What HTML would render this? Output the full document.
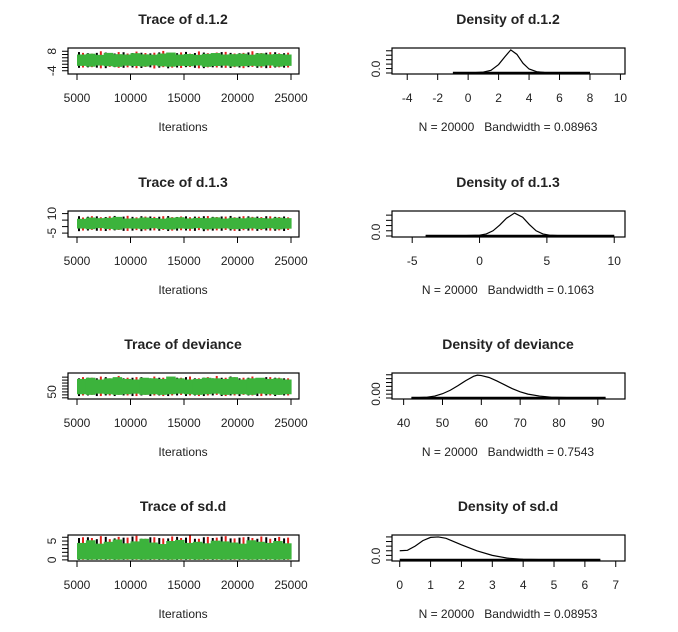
<!DOCTYPE html>
<html><head><meta charset="utf-8"><style>
body{margin:0;background:#fff}
svg{display:block;font-family:"Liberation Sans",Arial,sans-serif}
text{white-space:pre}
</style></head><body>
<svg id="s" width="678" height="632" viewBox="0 0 678 632"></svg>
<script>
// ---- data ----
const traceTitles = ["Trace of d.1.2","Trace of d.1.3","Trace of deviance","Trace of sd.d"];
const densTitles = ["Density of d.1.2","Density of d.1.3","Density of deviance","Density of sd.d"];
const bandwidths = ["N = 20000   Bandwidth = 0.08963","N = 20000   Bandwidth = 0.1063","N = 20000   Bandwidth = 0.7543","N = 20000   Bandwidth = 0.08953"];
const traceXTicks = [5000,10000,15000,20000,25000];
const traceYRange = [[-6,10],[-8,12],[38,82],[-0.3,6.6]];
const traceYTicks = [[-4,-2,0,2,4,6,8],[-5,0,5,10],[40,45,50,55,60,65,70,75],[0,1,2,3,4,5,6]];
const traceYLabels = [["-4","8"],["-5","10"],["50"],["0","5"]];
const traceYLabelVals = [[-4,8],[-5,10],[50],[0,5]];
const greenHi = [[6,6.5,5.8,7,6.2,6,6.8,6.1,5.9,6.6,7.2,6,6.3,5.8,6.4,6.9,6,6.2,6.5,5.9,6.7,6.1,6.3,6],
 [6,7,6.5,6.8,7.5,6.2,6.4,7,6.6,6.1,6.9,7.2,6.3,6.7,6.5,7.1,6.2,6.8,6.4,7,6.6,6.3,6.9,6.5],
 [72,74,71,73,75,72,71,74,73,72,76,73,71,72,74,73,72,75,71,73,74,72,73,71],
 [4.5,5.2,4.3,4.8,5.4,4.4,4.9,5.6,4.6,4.2,5,5.3,4.5,4.8,4.4,5.1,4.9,4.6,4.3,5.2,4.8,4.5,5,4.4]];
const greenLo = [[-1,-1.5,-0.8,-1.2,-1.6,-0.9,-1.1,-1.4,-0.7,-1.3,-1.5,-1,-1.2,-0.8,-1.6,-1.1,-0.9,-1.4,-1.2,-1,-1.3,-0.8,-1.5,-1],
 [-1.5,-2,-1.2,-1.8,-2.4,-1.4,-1.6,-2,-1.3,-1.9,-2.2,-1.5,-1.7,-1.2,-2.1,-1.6,-1.4,-2,-1.8,-1.5,-1.9,-1.3,-2.1,-1.6],
 [46,45,47,46,45,46,47,45,46,45,46,47,46,45,46,47,45,46,46,45,47,46,45,46],
 [0.1,0.05,0.1,0.1,0.05,0.1,0.1,0.05,0.1,0.1,0.05,0.1,0.1,0.05,0.1,0.1,0.05,0.1,0.1,0.05,0.1,0.1,0.05,0.1]];
const redHi = [[7,6.5,8,6.8,7.5,6.6,7.8,6.9,7.1,8.2,6.7,7.3,6.5,7.9,6.8,7.2,7.6,6.6,7,8,6.9,7.4,6.7,7.1],
 [7,8,7.2,7.9,7.4,8.3,7.1,7.7,7.5,8,7.3,7.8,7.2,7.6,8.1,7.4,7.7,7.2,8,7.5,7.3,7.9,7.4,7.1],
 [75,74,76,73,77,74,75,73,76,74,75,74,76,73,75,77,74,75,74,76,73,75,74,73],
 [6,5.8,6.3,5.5,6.1,5.9,6.4,5.6,6,5.7,6.2,5.8,6.5,5.6,6.1,5.9,6.3,5.7,6,5.8,6.2,5.6,6.1,5.9]];
const redLo = [[-2,-1.8,-2.5,-1.6,-2.2,-1.9,-2.4,-1.7,-2.6,-1.8,-2.1,-2.3,-1.7,-2.5,-1.9,-2,-2.2,-1.8,-2.4,-1.6,-2.1,-2.3,-1.9,-2],
 [-3,-2.5,-3.2,-2.8,-2.6,-3.3,-2.7,-3,-2.9,-2.6,-3.1,-2.8,-3.2,-2.7,-3,-2.9,-2.6,-3.3,-2.8,-3,-2.7,-3.1,-2.9,-2.6],
 [44,45,43,44,45,44,43,45,44,43,44,45,44,43,44,45,43,44,45,44,43,44,45,44],
 [0,0,0,0,0,0,0,0,0,0,0,0,0,0,0,0,0,0,0,0,0,0,0,0]];
const blackHi = [[7.5,6.8,7,7.2,6.6,7.4,6.9,7.1,6.7,7.3,7,6.8,7.6,6.9,7.2,6.7,7.5,7,6.8,7.3,6.9,7.1,7.4,6.8],
 [8,7.6,7.9,7.4,8.2,7.7,7.5,8,7.8,7.6,8.1,7.4,7.9,7.7,8,7.5,7.8,8.2,7.6,7.9,7.7,8,7.5,7.8],
 [73,74,73,75,74,73,74,75,73,74,73,74,75,73,74,73,74,76,73,74,73,75,74,73],
 [5.8,6,5.5,6.1,5.7,5.9,6.2,5.6,6,5.8,5.7,6.1,5.9,5.6,6,5.8,6.2,5.7,5.9,6.1,5.6,6,5.8,5.7]];
const blackLo = [[-2.2,-1.9,-2.1,-2.4,-1.8,-2.2,-2,-2.3,-1.9,-2.1,-2.5,-2,-1.8,-2.2,-2.4,-1.9,-2.1,-2.3,-2,-1.8,-2.2,-2.4,-2,-2.1],
 [-3.5,-3,-3.2,-3.4,-2.9,-3.3,-3.1,-3.5,-3,-3.2,-3.4,-3.1,-3,-3.3,-3.5,-3.1,-3.2,-3,-3.4,-3.1,-3.3,-3,-3.2,-3.4],
 [43,44,43,44,43,44,43,44,43,44,43,44,43,44,43,44,43,44,43,44,43,44,43,44],
 [0,0,0,0,0,0,0,0,0,0,0,0,0,0,0,0,0,0,0,0,0,0,0,0]];
const densXRange = [[-5,10.3],[-6.5,10.8],[37,97],[-0.25,7.3]];
const densXTicks = [[-4,-2,0,2,4,6,8,10],[-5,0,5,10],[40,50,60,70,80,90],[0,1,2,3,4,5,6,7]];
const densYTop = [0.54,0.46,0.062,0.52];
const densYTicks = [[0,0.1,0.2,0.3,0.4,0.5],[0,0.1,0.2,0.3,0.4],[0,0.01,0.02,0.03,0.04,0.05,0.06],[0,0.1,0.2,0.3,0.4,0.5]];
const densYLabel = ["0.0","0.0","0.00","0.0"];
const densX = [[-1,0,0.5,1,1.5,2,2.4,2.8,3.2,3.6,4,4.5,5,5.5,6,7,8],
 [-4,-2,-1,0,0.5,1,1.5,2,2.6,3.2,3.7,4.2,4.7,5.2,6,8,10],
 [42,46,48,50,52,54,56,58,59,60,62,64,66,68,70,72,75,78,82,88,92],
 [0,0.25,0.5,0.75,1,1.25,1.5,1.75,2,2.5,3,3.5,4,5,6,6.5]];
const densY = [[0,0.003,0.008,0.02,0.06,0.19,0.36,0.52,0.42,0.22,0.09,0.03,0.012,0.004,0.002,0.001,0],
 [0.002,0.004,0.007,0.015,0.04,0.1,0.21,0.34,0.44,0.36,0.22,0.1,0.04,0.015,0.005,0.002,0],
 [0,0.002,0.005,0.011,0.02,0.032,0.045,0.056,0.059,0.058,0.053,0.044,0.034,0.024,0.016,0.01,0.005,0.002,0.001,0,0],
 [0.2,0.21,0.3,0.42,0.49,0.5,0.47,0.4,0.33,0.2,0.1,0.04,0.015,0.003,0.001,0]];
// ---- layout ----
const S=document.getElementById('s'), NS="http://www.w3.org/2000/svg";
function el(t,a,p){const e=document.createElementNS(NS,t);for(const k in a)e.setAttribute(k,a[k]);(p||S).appendChild(e);return e;}
function txt(x,y,s,sz,w,p,rot){const e=el('text',{x:x,y:y,'font-size':sz,'text-anchor':'middle','font-weight':w||'normal',fill:'#222'},p);if(rot)e.setAttribute('transform',`rotate(-90 ${x} ${y})`);e.textContent=s;return e;}
const rowOff=[0,163,325,487];
for(let r=0;r<4;r++){
  const o=rowOff[r], top=48+o, bot=74+o;
  const g=el('g',{});
  
  
  const L=68,R=299;
  const xs=v=>77+(v-5000)/20000*(291-77);
  const [y0,y1]=traceYRange[r];
  const ys=v=>bot-(v-y0)/(y1-y0)*(bot-top);
  const n=greenHi[r].length, step=(291-77)/n;
  const spikes=[[blackHi[r],blackLo[r],'#000',1],[redHi[r],redLo[r],'#e0201b',5]];
  spikes.forEach(([hi,lo,c,off])=>{
    for(let i=0;i<n;i++){
      const x=77+i*step+off;
      const rc=el('rect',{x:x,y:ys(hi[i]),width:2,height:ys(lo[i])-ys(hi[i]),fill:c},g);
      
      
    }
  });
  for(let i=0;i<n;i++){
    const x=77+i*step;
    const rc=el('rect',{x:x,y:ys(greenHi[r][i]),width:step+0.6,height:ys(greenLo[r][i])-ys(greenHi[r][i]),fill:'#3cb33c'},g);
    
    
  }
  el('rect',{x:L,y:top,width:R-L,height:bot-top,fill:'none',stroke:'#000','stroke-width':1.2},g);
  traceXTicks.forEach(t=>{el('line',{x1:xs(t),x2:xs(t),y1:bot,y2:bot+6,stroke:'#000'},g);txt(xs(t),bot+28,String(t),12,'normal',g);});
  traceYTicks[r].forEach(t=>el('line',{x1:L-6,x2:L,y1:ys(t),y2:ys(t),stroke:'#000'},g));
  traceYLabels[r].forEach((s,i)=>txt(L-12,ys(traceYLabelVals[r][i]),s,12,'normal',g,true));
  txt(183,24+o,traceTitles[r],14,'bold',g);
  txt(183,131+o,'Iterations',12,'normal',g);
  const d=el('g',{});
  
  
  const DL=392,DR=625;
  const [a,b]=densXRange[r];
  const dx=v=>DL+(v-a)/(b-a)*(DR-DL);
  const dbot=bot-1, dtop=top+1;
  const dy=v=>dbot-v/densYTop[r]*(dbot-dtop);
  const pts=densX[r].map((v,i)=>dx(v)+','+dy(densY[r][i])).join(' ');
  const pl=el('polyline',{points:pts,fill:'none',stroke:'#000','stroke-width':1.2},d);
  
  
  el('line',{x1:dx(densX[r][0]),x2:dx(densX[r][densX[r].length-1]),y1:dbot,y2:dbot,stroke:'#000','stroke-width':2.5},d);
  el('rect',{x:DL,y:top,width:DR-DL,height:bot-top,fill:'none',stroke:'#000','stroke-width':1.2},d);
  densXTicks[r].forEach(t=>{el('line',{x1:dx(t),x2:dx(t),y1:bot,y2:bot+6,stroke:'#000'},d);txt(dx(t),bot+28,String(t),12,'normal',d);});
  densYTicks[r].forEach(t=>el('line',{x1:DL-6,x2:DL,y1:dy(t),y2:dy(t),stroke:'#000'},d));
  txt(DL-12,dy(0)-4,densYLabel[r],12,'normal',d,true);
  txt(508,24+o,densTitles[r],14,'bold',d);
  txt(508,131+o,bandwidths[r],12,'normal',d);
}
</script>
</body></html>
